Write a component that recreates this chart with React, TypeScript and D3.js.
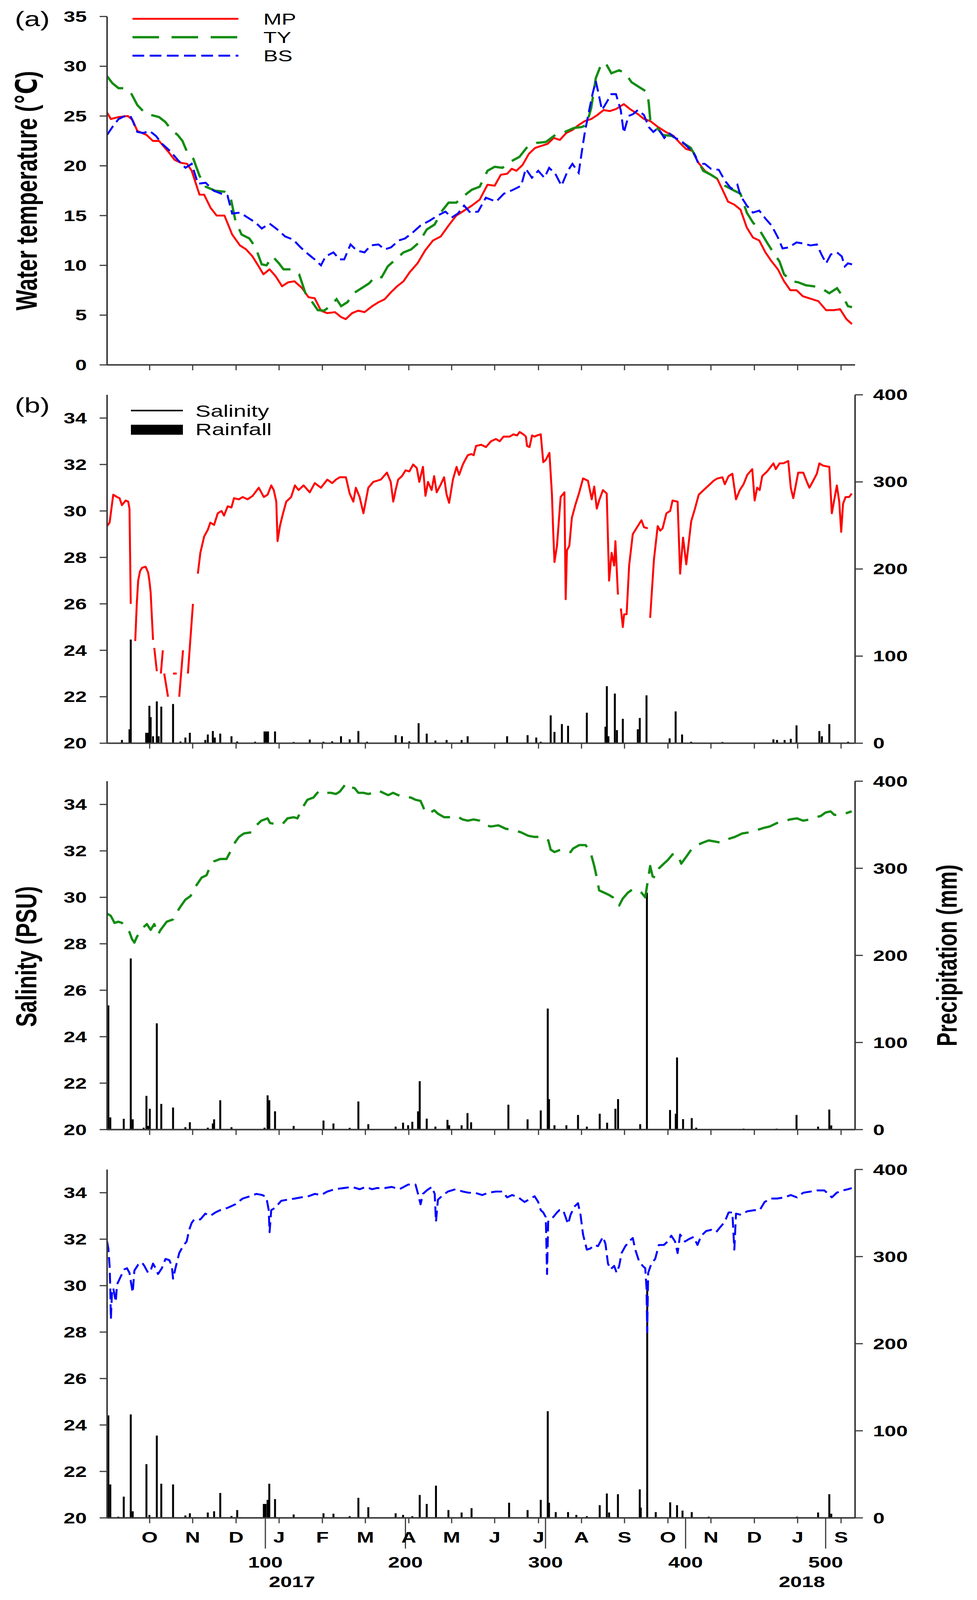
import * as d3 from 'd3';

type Pt = [number, number | null];

const FONT = '"Liberation Sans", Arial, "DejaVu Sans", sans-serif';
// the source figure is stretched sideways, so its text is wider than normal
const SX = 1.33;
const AXIS = '#3a3a3a';
const RED = '#ff0000';
const GREEN = '#138d13';
const BLUE = '#0000ff';

// ---- axes ----
const dayDomain = [-13, 521];
const monthTicks = [17.4, 48.1, 79.1, 109.8, 140.7, 171.4, 202.4, 233.0, 263.7, 295.0, 325.7, 356.4, 387.4, 418.1, 449.1, 480.0, 511.0];
const monthLabels = ['O', 'N', 'D', 'J', 'F', 'M', 'A', 'M', 'J', 'J', 'A', 'S', 'O', 'N', 'D', 'J', 'S'];
const dayTicks = [100, 200, 300, 400, 500];
const yearLabels: [string, number][] = [['2017', 119], ['2018', 483]];
const tempTicks = [0, 5, 10, 15, 20, 25, 30, 35];
const salTicks = [20, 22, 24, 26, 28, 30, 32, 34];
const rainTicks = [0, 100, 200, 300, 400];

// ---- (a) water temperature, deg C ----
const tempMP: Pt[] = [[-13,25.35],[-10.3,24.7],[-4.8,24.9],[1.9,25.0],[5.2,24.6],[8.6,23.5],[15.2,23.1],[19.7,22.5],[24.1,22.5],[30.8,21.4],[35.2,20.6],[39.7,20.3],[44.1,20.2],[47.4,19.5],[53,17.1],[56.3,17.1],[60.8,15.8],[65.2,15.0],[70.8,15.0],[76.3,13.1],[81.9,12.0],[86.3,11.6],[90.8,10.9],[95.2,9.9],[98.6,9.1],[103,9.6],[107.4,8.9],[111.9,7.9],[116.3,8.3],[120.8,8.4],[126.3,7.7],[130.8,6.8],[135.2,6.7],[139.7,5.45],[144.1,5.2],[149.7,5.3],[154.1,4.8],[157.4,4.6],[161.9,5.2],[166.3,5.45],[170.8,5.3],[176.3,5.9],[180.8,6.3],[185.2,6.6],[189.7,7.3],[194.1,7.9],[198.6,8.4],[203,9.3],[208.6,10.2],[214.1,11.5],[219.7,12.5],[225.2,12.9],[230.8,14.0],[236.3,15.0],[241.9,15.5],[247.4,16.0],[253,16.6],[258.6,18.1],[263.7,18.0],[268.1,19.1],[272.6,19.2],[275.9,19.7],[279.2,19.5],[283.7,20.1],[288.1,21.2],[292.6,21.8],[297,22.0],[301.4,22.2],[305.9,22.8],[310.3,22.6],[314.8,23.3],[319.2,23.6],[323.7,24.1],[328.1,24.5],[332.6,24.7],[337,25.1],[341.4,25.6],[345.9,25.5],[350.3,25.7],[355.9,26.2],[360.3,25.7],[365.9,25.2],[370.3,24.7],[374.8,24.5],[380.3,23.9],[385.9,23.4],[391.4,23.0],[395.9,22.3],[400.3,21.7],[404.8,21.5],[409.2,20.3],[413.7,19.5],[418.1,19.1],[422.6,18.7],[427,17.4],[430.3,16.4],[434.8,16.1],[439.2,15.6],[443.7,13.8],[448.1,12.8],[452.6,12.5],[457,11.3],[461.4,10.4],[465.9,9.6],[470.3,8.4],[474.8,7.5],[479.2,7.5],[483.7,6.9],[488.1,6.7],[494.8,6.4],[500.3,5.5],[505.9,5.5],[510.3,5.6],[514.8,4.6],[518.8,4.1]];
const tempTY: Pt[] = [[-13,29.0],[-9.2,28.3],[-4.8,27.8],[-0.3,27.8],[4.1,27.3],[8.6,26.1],[14.1,25.3],[18.6,25.1],[24.1,24.9],[28.6,24.4],[33,23.6],[37.4,23.1],[40.8,22.5],[44.1,21.4],[48.6,20.7],[53,19.0],[57.4,17.9],[64.1,17.5],[70.8,17.4],[75.2,16.8],[78.6,14.5],[83,13.1],[88.6,12.7],[93,11.8],[97.4,10.1],[100.8,10.0],[105.2,10.9],[109.7,10.2],[113,9.6],[118.6,9.6],[124.1,9.1],[128.6,7.2],[133,6.4],[137.4,5.5],[141.9,5.45],[146.3,5.9],[150.8,6.6],[154.1,5.9],[158.6,6.3],[163,7.2],[168.6,7.7],[174.1,8.2],[178.6,8.9],[183,8.8],[187.4,9.9],[193,10.6],[198.6,11.3],[204.1,11.6],[209.7,12.3],[215.2,13.6],[220.8,14.1],[226.3,15.5],[230.8,16.3],[236.3,16.3],[241.9,17.0],[247.4,17.6],[253,17.9],[258.6,19.5],[263.7,19.9],[269.2,19.8],[274.8,20.4],[281.4,20.9],[287,21.9],[293.7,22.3],[300.3,22.4],[307,23.1],[313.7,23.4],[320.3,23.8],[325.9,23.9],[329.2,24.1],[332.6,25.8],[335.9,28.8],[339.2,30.0],[342.6,30.4],[347,29.3],[352.6,29.6],[357,29.3],[361.4,28.4],[367,27.9],[372.6,27.4],[373.7,26.3],[374.8,24.6],[379.2,23.9],[383.7,23.1],[390.3,23.0],[397,22.4],[403.7,21.8],[408.1,20.7],[412.6,19.5],[418.1,19.1],[423.7,18.6],[428.1,18.0],[434.8,17.5],[439.2,17.2],[443.7,15.3],[448.1,14.3],[452.6,13.6],[458.1,12.3],[462.6,11.3],[467,10.4],[470.3,9.1],[475.9,8.4],[480.3,8.3],[485.9,8.0],[491.4,7.9],[497,7.7],[502.6,7.2],[508.1,7.7],[512.6,6.8],[515.9,5.9],[518.8,5.8]];
const tempBS: Pt[] = [[-13,23.1],[-9.2,23.9],[-4.8,24.7],[-0.3,25.0],[4.1,24.9],[8.6,23.4],[13,23.3],[17.4,23.5],[21.9,23.0],[26.3,22.2],[31.9,21.5],[37.4,20.6],[43,19.8],[47.4,20.2],[51.9,18.2],[57.4,18.3],[63,17.5],[68.6,17.2],[73,17.0],[76.3,15.2],[81.9,15.3],[87.4,14.8],[93,14.3],[97.4,13.7],[103,14.2],[108.6,13.6],[114.1,12.9],[119.7,12.6],[125.2,11.8],[130.8,11.1],[135.2,10.6],[139.7,10.0],[143,10.9],[148.6,11.3],[153,10.6],[156.3,10.6],[160.8,12.1],[165.2,11.5],[170.8,11.3],[175.2,12.0],[180.8,12.1],[185.2,11.6],[189.7,11.8],[195.2,12.5],[199.7,12.7],[205.2,13.3],[210.8,14.0],[217.4,14.5],[223,15.0],[228.6,15.4],[233,14.8],[237.4,15.2],[241.9,16.0],[246.3,15.3],[251.9,15.4],[257.4,16.8],[264.8,16.4],[270.3,17.2],[277,17.6],[282.6,18.0],[285.9,19.7],[290.3,18.8],[294.8,19.5],[299.2,18.8],[302.6,19.8],[307,19.2],[311.4,18.0],[315.9,19.5],[319.2,20.2],[323.7,19.3],[325.9,21.4],[328.1,23.4],[331.5,25.8],[333.7,27.3],[335.9,28.5],[338.1,27.1],[340.3,25.6],[343.7,26.4],[347,27.2],[350.3,27.2],[353.7,25.6],[355.9,23.3],[359.2,25.0],[362.6,25.2],[365.9,25.6],[370.3,25.1],[373.7,23.9],[377,23.4],[380.3,23.8],[384.8,22.8],[388.1,23.3],[392.6,22.8],[397,22.5],[401.4,21.9],[405.9,21.3],[409.2,20.2],[413.7,20.2],[418.1,19.7],[423.7,19.6],[428.1,18.5],[432.6,17.7],[437,18.1],[439.2,17.0],[443.7,16.0],[448.1,15.3],[452.6,15.5],[457,14.7],[461.4,14.0],[465.9,12.8],[469.2,11.7],[473.7,11.8],[479.2,12.3],[483.7,12.2],[489.2,12.0],[493.7,12.1],[497,11.1],[500.3,10.2],[503.7,11.1],[508.1,11.3],[511.5,10.9],[513.7,9.9],[515.9,10.2],[518.8,10.1]];

// ---- (b) salinity, PSU (null = gap in the record) ----
const salMP: Pt[] = [[-13,29.35],[-11.2,29.5],[-8.6,30.7],[-5.9,30.6],[-4.1,30.55],[-2.4,30.25],[0.3,30.45],[2.1,30.4],[3,30.1],[3.9,26.0],[5,null],
  [7.1,24.4],[8.2,26.0],[9.2,27.0],[10.5,27.4],[11.9,27.55],[14.5,27.6],[16.3,27.35],[17.2,27.0],[18.1,26.5],[19.8,24.45],[20.2,null],
  [20.7,24.1],[22.5,23.1],[23.5,null],
  [25.4,23.0],[26.8,24.0],[27.3,null],
  [27.8,23.0],[30.5,22.0],[32,null],
  [34.1,23.0],[36.7,23.0],[37.5,null],
  [38.5,22.0],[41.2,24.0],[42.5,null],
  [44.7,23.0],[48.3,26.0],[50,null],
  [51.8,27.3],[53.6,28.2],[56.3,28.9],[59,29.2],[60.7,29.5],[63.4,29.4],[66,29.9],[68.7,30.0],[70.5,29.8],[73.1,30.2],[75.8,30.15],[77.6,30.55],[81.1,30.5],[83.8,30.6],[87.3,30.5],[90.9,30.65],[95.3,31.0],[98.9,30.6],[101.6,30.7],[104.2,31.1],[106,30.9],[107.8,30.4],[108.7,28.7],[110.4,29.35],[112.2,29.8],[114.9,30.4],[118.4,30.6],[121.1,31.1],[123.7,30.9],[127.3,31.1],[131.7,30.8],[135.3,31.2],[139.7,31.0],[144.2,31.35],[147.7,31.2],[150.4,31.35],[153.1,31.45],[157.5,31.45],[160.2,30.75],[162.8,30.4],[164.6,31.0],[167.3,30.6],[170,29.9],[173.5,31.0],[177,31.25],[179.7,31.3],[182.4,31.35],[186.8,31.65],[189.5,31.25],[191.3,30.4],[193,30.9],[194.8,31.35],[197.5,31.5],[200.1,31.75],[202.8,31.7],[205.5,32.0],[208.1,31.85],[209.9,31.25],[212.5,31.9],[214.3,30.65],[216.1,31.25],[218.7,30.9],[220.5,31.5],[222.3,30.8],[224.9,31.1],[227.6,31.45],[229.4,30.7],[231.2,30.35],[233.9,31.35],[236.5,31.9],[238.3,31.55],[241,32.0],[242.7,32.2],[244.5,32.4],[246.9,32.45],[248.7,32.4],[250.4,32.8],[254,32.85],[257.5,32.75],[261.1,33.0],[264.6,33.1],[267.3,33.0],[270,33.2],[274.4,33.2],[277.1,33.3],[279.7,33.25],[281.5,33.4],[284.2,33.3],[286,33.2],[286.8,32.8],[288.6,32.75],[290.4,33.25],[292.2,33.2],[293.9,33.25],[296.6,33.3],[298.4,32.1],[300.2,32.2],[302.8,32.5],[304.6,30.7],[305.5,29.1],[306.4,27.8],[308.2,28.5],[310.8,30.6],[313.5,30.8],[314.4,26.2],[315.3,28.3],[317,28.5],[318.8,29.7],[321.5,30.3],[324.1,30.8],[326.8,31.4],[330.3,31.3],[333,30.5],[334.8,31.05],[336.6,30.1],[338.3,30.45],[341,30.9],[343.7,30.75],[345.4,27.0],[347.2,28.2],[349,27.65],[349.9,28.7],[351.7,26.4],[352.7,null],
  [353.8,25.8],[355.2,25.0],[356.1,25.55],[357.9,25.55],[359.7,27.65],[362.3,29.0],[365.9,29.35],[368.5,29.6],[370.3,29.3],[373,29.25],[373.8,null],
  [374.7,25.4],[377.4,27.9],[380.1,29.35],[381.9,29.15],[383.6,29.25],[386.3,29.9],[389,30.0],[390.7,30.45],[394.3,30.4],[396.1,27.3],[398.2,28.85],[400.5,27.7],[404,29.55],[406.7,30.1],[409.4,30.7],[412.9,30.9],[416.5,31.1],[420,31.3],[422.7,31.4],[426.3,31.45],[428,31.15],[430.7,31.5],[433.4,31.6],[436,30.5],[438.7,30.9],[441.4,31.15],[444,31.55],[447.6,31.8],[449.3,30.45],[451.1,31.0],[452.9,30.9],[454.7,31.5],[458.2,31.7],[462.7,32.05],[464.4,31.8],[467.1,32.05],[469.8,32.05],[473.3,32.15],[475.1,31.0],[476.9,30.55],[480.4,31.65],[484,31.65],[486.6,31.25],[488.4,31.0],[491.1,31.3],[493.7,31.6],[495.5,32.05],[498.2,31.95],[502.6,31.9],[504.4,29.9],[506.2,30.5],[508,31.1],[509.7,30.4],[511.1,29.1],[512.4,30.3],[514.2,30.6],[516.8,30.6],[518.6,30.75]];
const salTY: Pt[] = [[-13,29.3],[-10.3,29.2],[-7.7,28.9],[-5,28.95],[-2.4,28.9],[-0.6,28.75],[3,28.5],[4.8,28.2],[6.5,28.05],[8.3,28.3],[12.7,28.7],[15.4,28.85],[18.1,28.6],[20.7,28.85],[23.4,28.4],[25.2,28.6],[29.6,28.95],[34.1,29.05],[36.7,29.35],[39.4,29.6],[42.9,29.9],[46.5,30.05],[50,30.45],[54.5,30.85],[58,30.95],[60.7,31.35],[63.4,31.55],[67.8,31.65],[72.2,31.65],[74.9,31.95],[77.6,32.3],[81.1,32.6],[84.7,32.75],[90,32.8],[92.7,33.05],[97.1,33.3],[101.6,33.4],[103.3,33.2],[107.8,33.15],[112.2,33.15],[115.8,33.4],[120.2,33.45],[122.9,33.4],[126.4,33.85],[130,34.2],[134.4,34.3],[137.1,34.5],[139.7,34.6],[143.3,34.5],[146.8,34.5],[150.4,34.45],[153.1,34.55],[155.7,34.75],[157.5,34.9],[160.2,34.75],[163.7,34.7],[166.4,34.5],[170,34.5],[173.5,34.45],[177,34.5],[180.6,34.6],[184.1,34.5],[187.7,34.4],[191.2,34.5],[194.8,34.4],[199.2,34.3],[203.7,34.3],[207.2,34.2],[210.8,34.15],[212.6,33.9],[214.3,33.65],[217.9,33.65],[220.5,33.75],[223.2,33.6],[227.6,33.45],[232.1,33.45],[236.5,33.5],[240.9,33.35],[244.5,33.3],[248.7,33.35],[253.1,33.3],[257.5,33.1],[261.1,33.05],[266.4,33.1],[271.7,32.95],[277.1,32.9],[282.4,32.8],[287.7,32.65],[292.2,32.6],[298.4,32.6],[302,32.45],[303.7,32.05],[306.4,31.95],[310.8,32.05],[315.3,31.95],[317.9,31.95],[319.7,32.1],[324.1,32.25],[328.6,32.25],[332.1,31.95],[334.8,31.35],[336.6,30.85],[338.3,30.3],[341.9,30.2],[345.4,30.1],[348.1,30.0],[349.9,29.7],[352.6,29.65],[355.2,29.95],[358.8,30.2],[362.3,30.35],[365.9,30.3],[368.5,30.2],[371.2,30.0],[373,30.7],[374.7,31.35],[376.5,30.9],[378.3,30.85],[381,31.25],[384.5,31.45],[387.2,31.6],[390.7,31.85],[394.3,31.85],[396.9,31.45],[400.5,31.75],[404,32.05],[406.7,32.2],[412.1,32.35],[416.5,32.45],[421,32.4],[425.4,32.35],[429.8,32.5],[435.1,32.6],[440.4,32.75],[445.8,32.8],[451.1,32.9],[456.4,33.0],[460,33.05],[465.3,33.2],[469.8,33.25],[474.2,33.35],[479.5,33.4],[484,33.3],[488.4,33.35],[492.9,33.45],[496.4,33.5],[499.9,33.65],[503.5,33.7],[506.2,33.55],[511.5,33.55],[516,33.65],[518.6,33.7]];
const salBS: Pt[] = [[-13,31.9],[-12.1,31.6],[-11.2,30.85],[-10.7,29.9],[-10.3,28.55],[-9.5,29.7],[-8.6,29.9],[-7.7,29.6],[-6.8,29.3],[-5.9,30.05],[-3.2,30.4],[-0.6,30.7],[1.2,30.75],[3,30.55],[3.9,30.2],[5.3,29.7],[6.5,30.65],[9.2,30.9],[11.9,31.0],[13.6,30.85],[16.3,30.55],[18.1,30.65],[19.8,30.95],[21.6,30.75],[23.4,30.5],[26.1,30.75],[28.7,31.15],[31.4,31.1],[33.2,30.85],[34.1,30.3],[35.8,30.75],[38.5,31.4],[41.2,31.7],[43.8,31.9],[45.6,32.4],[47.4,32.7],[49.2,32.85],[53.6,32.85],[57.1,33.1],[60.7,33.0],[64.3,33.15],[67.8,33.25],[73.1,33.35],[78.5,33.5],[83.8,33.75],[89.1,33.85],[93.6,33.95],[98,33.9],[100.7,33.8],[102.4,33.25],[103,32.3],[104.2,33.25],[106.9,33.35],[111.3,33.65],[115.8,33.7],[121.1,33.75],[125.5,33.8],[130.9,33.85],[135.3,33.95],[139.7,33.9],[144.2,34.05],[149.5,34.15],[155.7,34.2],[161.9,34.25],[167.3,34.15],[171.7,34.25],[176.2,34.15],[179.7,34.2],[185.1,34.2],[190.3,34.25],[195.7,34.15],[201.9,34.35],[207.2,34.35],[209,33.95],[210.8,33.5],[212.5,33.95],[215.2,34.1],[218.8,34.25],[220.9,33.95],[221.8,32.75],[223.2,33.7],[225.9,33.85],[230.3,34.05],[235.7,34.15],[241,34.05],[245.1,34.0],[249.5,34.0],[254.9,33.9],[259.3,34.0],[264.6,34.05],[269.1,34.05],[272.6,33.8],[276.2,33.9],[280.6,33.8],[285,33.6],[289.5,33.75],[292.2,33.85],[294.8,33.6],[296.6,33.25],[298.4,33.15],[300.2,32.95],[301.1,30.5],[301.9,32.75],[303.7,32.9],[305.5,32.95],[308.2,33.15],[309.9,33.25],[312.6,33.25],[316.1,32.65],[317.9,33.05],[320.6,33.4],[323.2,33.55],[325,33.05],[326.8,32.2],[329.5,31.55],[332.1,31.6],[334.8,31.75],[337.5,31.7],[341,32.1],[342.8,31.8],[344.6,30.95],[346.4,30.7],[349,30.85],[350.8,30.55],[352.6,30.85],[354.3,31.4],[357,31.7],[359.7,31.9],[362.3,32.05],[364.1,31.55],[366.8,31.05],[369.4,30.85],[371.2,30.75],[372.1,29.9],[372.6,28.0],[373.3,30.55],[375.6,30.95],[378.3,31.15],[380.9,31.75],[384.5,31.75],[387.2,31.9],[389.8,32.15],[392.5,31.9],[394.3,31.4],[396.1,32.2],[399.6,31.9],[402.3,32.0],[405.8,32.1],[408.5,31.75],[411.2,32.15],[414.7,32.35],[418.3,32.4],[421.8,32.3],[424.5,32.5],[428,32.75],[430.7,33.15],[433.4,33.15],[434.8,31.55],[436,33.1],[439.6,33.05],[444,33.2],[449.3,33.25],[452.9,33.25],[456.4,33.6],[460.9,33.75],[465.3,33.75],[470.7,33.8],[475.1,33.9],[479.5,33.8],[484,34.0],[489.3,34.05],[493.7,34.1],[499.1,34.1],[501.7,33.95],[504.4,33.8],[507.9,34.0],[512.4,34.1],[516,34.15],[518.6,34.2]];

// ---- (b) daily rainfall, mm ----
const rainMP: [number, number][] = [[-2.4,3.7],[3,16],[3.9,119],[14.9,12],[16,12],[17.2,43],[18.1,30],[19.8,8],[22.5,48],[23.8,8],[25.7,42],[34.1,45],[39.4,2],[42.9,6.5],[46.1,12],[57.1,3.7],[58.9,10],[62.5,14],[63.9,6.5],[67.8,11],[75.8,8],[79.9,2],[92.7,1.7],[99.4,13.5],[100.7,13.5],[101.9,13.5],[106.9,13.5],[120.2,1.4],[131.7,4.2],[141.5,1.7],[147.7,2.2],[154,8],[160.2,4.5],[166.4,14],[172.6,1.7],[193,9.3],[197.5,8],[202.8,2.2],[209.4,23],[215.2,11],[221.4,3],[229.4,3.7],[240.1,3.7],[244.4,8],[272.6,8],[287.2,9.3],[293.4,6.5],[296.6,1.7],[303.7,32],[306.4,13],[311.7,22],[316.1,20],[329.5,35],[342.8,19],[343.8,65.5],[344.9,8],[349.5,57],[351,15],[355.2,28],[365.9,16],[367.3,29],[372.1,55],[388.6,5.6],[392.9,36.5],[397.5,10],[404,1.7],[426.3,1.4],[462.7,4.5],[465.3,3.7],[470.7,3.7],[475.1,5],[479.2,20.5],[495.5,14],[497.3,8],[502.6,22],[511.5,0.8],[516,1.7]];
const rainTY: [number, number][] = [[-12.1,142.6],[-10.7,14],[-1.1,12.4],[3.9,196.5],[5.3,11.8],[13.1,2.2],[15.1,38.7],[16.3,4.2],[17.5,23.9],[22.5,122],[25.7,29.5],[34.1,25.3],[42.9,2.8],[46.1,8.4],[58.9,2.2],[62.5,7],[63.4,11.8],[67.8,33.7],[75.8,2.8],[99.4,2.2],[101.6,39.3],[102.8,33.7],[106.9,21],[120.2,4.2],[141.5,10.4],[148.6,7],[160.2,2],[166.4,32.3],[173.5,6.2],[193,3.4],[198.3,7.9],[201.9,5],[204.9,9],[209,21],[210.2,55.6],[215.2,12.6],[221.4,3.4],[230,11.2],[231.2,5],[240.1,5],[244.3,19],[246.9,8.4],[273.5,28.6],[287.2,11.8],[296.6,22],[301.6,139],[302.5,35],[306.4,5],[314.9,5],[323.2,16.8],[329.5,3.4],[338.7,18.2],[344,7.9],[349.9,23.9],[351.8,35],[367.6,6.2],[372.4,272],[388.9,22.5],[393,18.2],[393.9,82.8],[398.2,12],[404.4,13.2],[407.6,2.2],[441.4,1.1],[465,1.1],[479.2,16.8],[494.6,3.4],[502.6,23],[504,4.8]];
const rainBS: [number, number][] = [[-12.1,117.7],[-10.7,38.4],[-5,1.4],[-1.1,24.4],[3.9,118.8],[5.3,7.6],[15.1,61.7],[17.2,3.4],[22.5,94.5],[25.7,39.2],[34.1,38.4],[42.9,2.8],[46.1,5.3],[58.9,6.2],[63.4,7.6],[67.8,28.6],[75.8,2.2],[79.9,9],[98.9,16],[100.1,16],[101.6,20.7],[102.8,39.2],[106.9,21.6],[120.2,3.9],[141.5,5.3],[148.6,4.8],[160.2,2],[166.4,23],[173.5,12.3],[193,5.3],[198.3,3.4],[204.9,2],[210.2,26.3],[215.2,16],[221.8,37],[230.7,9],[240.1,6.2],[247.2,11.2],[274,17.4],[287.2,9],[296.6,20.7],[301.6,122.5],[302.5,17.4],[307.3,6.7],[316.1,6.7],[322,3.4],[329.5,2],[338.7,14.6],[343.8,28],[345.4,6.2],[351.7,27.2],[367.3,32.8],[368,11.8],[372.6,264],[378.7,6.7],[389,17.9],[393.9,14.6],[397.8,8.4],[404.4,6.7],[416.5,1.4],[479.5,1.4],[494.6,6.2],[502.6,27.2],[504,4.8]];

// ---- layout (drawn in a 2500x4170 frame, scaled to the window) ----
const W = 2500;
const H = 4170;
const LEFT = 274;
const RIGHT = 2188;
const PH = 908;
const TOP_A = 43;
const TOP_B = [1029, 2036, 3048];

const x = d3.scaleLinear().domain(dayDomain).range([LEFT, RIGHT]);

const lineFor = (y: d3.ScaleLinear<number, number>) =>
  d3.line<Pt>()
    .defined((d) => d[1] !== null)
    .x((d) => x(d[0]))
    .y((d) => y(d[1] as number));

function Txt({ x, y, children, anchor = 'middle', size = 40, weight = 'bold', rot = false }: {
  x: number; y: number; children: any; anchor?: string; size?: number; weight?: string; rot?: boolean;
}) {
  const t = `translate(${x},${y}) scale(${SX},1)` + (rot ? ' rotate(-90)' : '');
  return (
    <text transform={t} textAnchor={anchor} fontSize={size} fontWeight={weight} fontFamily={FONT} fill="#000">
      {children}
    </text>
  );
}

function BottomAxis({ base }: { base: number }) {
  return (
    <g stroke={AXIS} strokeWidth={4}>
      <line x1={LEFT} x2={RIGHT} y1={base} y2={base} />
      {monthTicks.map((m, i) => (
        <line key={i} x1={x(m)} x2={x(m)} y1={base} y2={base + 14} strokeWidth={3} />
      ))}
    </g>
  );
}

function LeftAxis({ y, ticks, showTop }: { y: d3.ScaleLinear<number, number>; ticks: number[]; showTop: number }) {
  return (
    <g>
      <line x1={LEFT} x2={LEFT} y1={y.range()[0]} y2={y(showTop)} stroke={AXIS} strokeWidth={4} />
      {ticks.map((t) => (
        <g key={t}>
          <line x1={LEFT - 19} x2={LEFT} y1={y(t)} y2={y(t)} stroke={AXIS} strokeWidth={3} />
          <Txt x={222} y={y(t) + 14} anchor="end">{t}</Txt>
        </g>
      ))}
    </g>
  );
}

function TempPanel() {
  const y = d3.scaleLinear().domain([0, 35]).range([TOP_A + PH, TOP_A]);
  const line = lineFor(y);
  const legend = [
    { label: 'MP', color: RED, dash: 'none', w: 5 },
    { label: 'TY', color: GREEN, dash: '68,32', w: 6 },
    { label: 'BS', color: BLUE, dash: '30,14', w: 5 },
  ];
  return (
    <g>
      <path d={line(tempMP) ?? ''} fill="none" stroke={RED} strokeWidth={5} strokeLinejoin="round" />
      <path d={line(tempTY) ?? ''} fill="none" stroke={GREEN} strokeWidth={6} strokeDasharray="55,25" />
      <path d={line(tempBS) ?? ''} fill="none" stroke={BLUE} strokeWidth={5} strokeDasharray="28,13" />
      <LeftAxis y={y} ticks={tempTicks} showTop={35} />
      <BottomAxis base={y(0)} />
      {legend.map((l, i) => (
        <g key={l.label}>
          <line x1={339} x2={610} y1={49 + i * 48} y2={49 + i * 48} stroke={l.color} strokeWidth={l.w} strokeDasharray={l.dash} />
          <Txt x={674} y={49 + i * 48 + 15} anchor="start" size={42} weight="normal">{l.label}</Txt>
        </g>
      ))}
      <Txt x={38} y={68} anchor="start" size={55} weight="normal">(a)</Txt>
    </g>
  );
}

function SalPanel({ i, sal, rain, color, dash, width }: {
  i: number; sal: Pt[]; rain: [number, number][]; color: string; dash: string; width: number;
}) {
  const top = TOP_B[i];
  const base = top + PH;
  const y = d3.scaleLinear().domain([20, 35]).range([base, top]);
  const yr = d3.scaleLinear().domain([0, 400]).range([base, top]);
  const line = lineFor(y);
  const last = i === TOP_B.length - 1;
  return (
    <g>
      {rain.map(([d, mm], k) => (
        <rect key={k} x={x(d) - 2.5} width={5} y={yr(mm)} height={base - yr(mm)} fill="#000" />
      ))}
      <path d={line(sal) ?? ''} fill="none" stroke={color} strokeWidth={width} strokeDasharray={dash} strokeLinejoin="round" />
      <LeftAxis y={y} ticks={salTicks} showTop={35} />
      <line x1={RIGHT} x2={RIGHT} y1={base} y2={top} stroke={AXIS} strokeWidth={4} />
      {rainTicks.map((t) => (
        <g key={t}>
          <line x1={RIGHT} x2={RIGHT + 20} y1={yr(t)} y2={yr(t)} stroke={AXIS} strokeWidth={3} />
          <Txt x={RIGHT + 46} y={yr(t) + 14} anchor="start">{t}</Txt>
        </g>
      ))}
      <BottomAxis base={base} />
      {last && (
        <g>
          {dayTicks.map((d) => (
            <line key={d} x1={x(d)} x2={x(d)} y1={base} y2={base + 80} stroke={AXIS} strokeWidth={3} />
          ))}
          {monthTicks.map((m, k) => (
            <Txt key={k} x={x(m)} y={base + 64}>{monthLabels[k]}</Txt>
          ))}
          {dayTicks.map((d) => (
            <Txt key={d} x={x(d)} y={base + 130}>{d}</Txt>
          ))}
          {yearLabels.map(([lab, d]) => (
            <Txt key={lab} x={x(d)} y={base + 180}>{lab}</Txt>
          ))}
        </g>
      )}
    </g>
  );
}

export default function App() {
  // the visible window can be a little shorter than 4170, so the frame is fitted to it
  return (
    <svg
      viewBox={`0 0 ${W} ${H}`}
      preserveAspectRatio="none"
      style={{ position: 'fixed', left: 0, top: 0, width: '100vw', height: '100vh', background: '#fff' }}
    >
      <rect width={W} height={H} fill="#fff" />
      <TempPanel />
      <SalPanel i={0} sal={salMP} rain={rainMP} color={RED} dash="none" width={5} />
      <SalPanel i={1} sal={salTY} rain={rainTY} color={GREEN} dash="55,25" width={6} />
      <SalPanel i={2} sal={salBS} rain={rainBS} color={BLUE} dash="28,13" width={5} />

      {/* legend of (b) */}
      <Txt x={38} y={1075} anchor="start" size={55} weight="normal">(b)</Txt>
      <line x1={335} x2={468} y1={1070} y2={1070} stroke="#000" strokeWidth={4} />
      <rect x={335} y={1107} width={133} height={26} fill="#000" />
      <Txt x={500} y={1086} anchor="start" size={44} weight="normal">Salinity</Txt>
      <Txt x={500} y={1134} anchor="start" size={44} weight="normal">Rainfall</Txt>

      {/* axis titles */}
      <Txt x={94} y={497} rot size={57}>Water temperature (℃)</Txt>
      <Txt x={93} y={2493} rot size={56}>Salinity (PSU)</Txt>
      <Txt x={2448} y={2490} rot size={54}>Precipitation  (mm)</Txt>
    </svg>
  );
}
